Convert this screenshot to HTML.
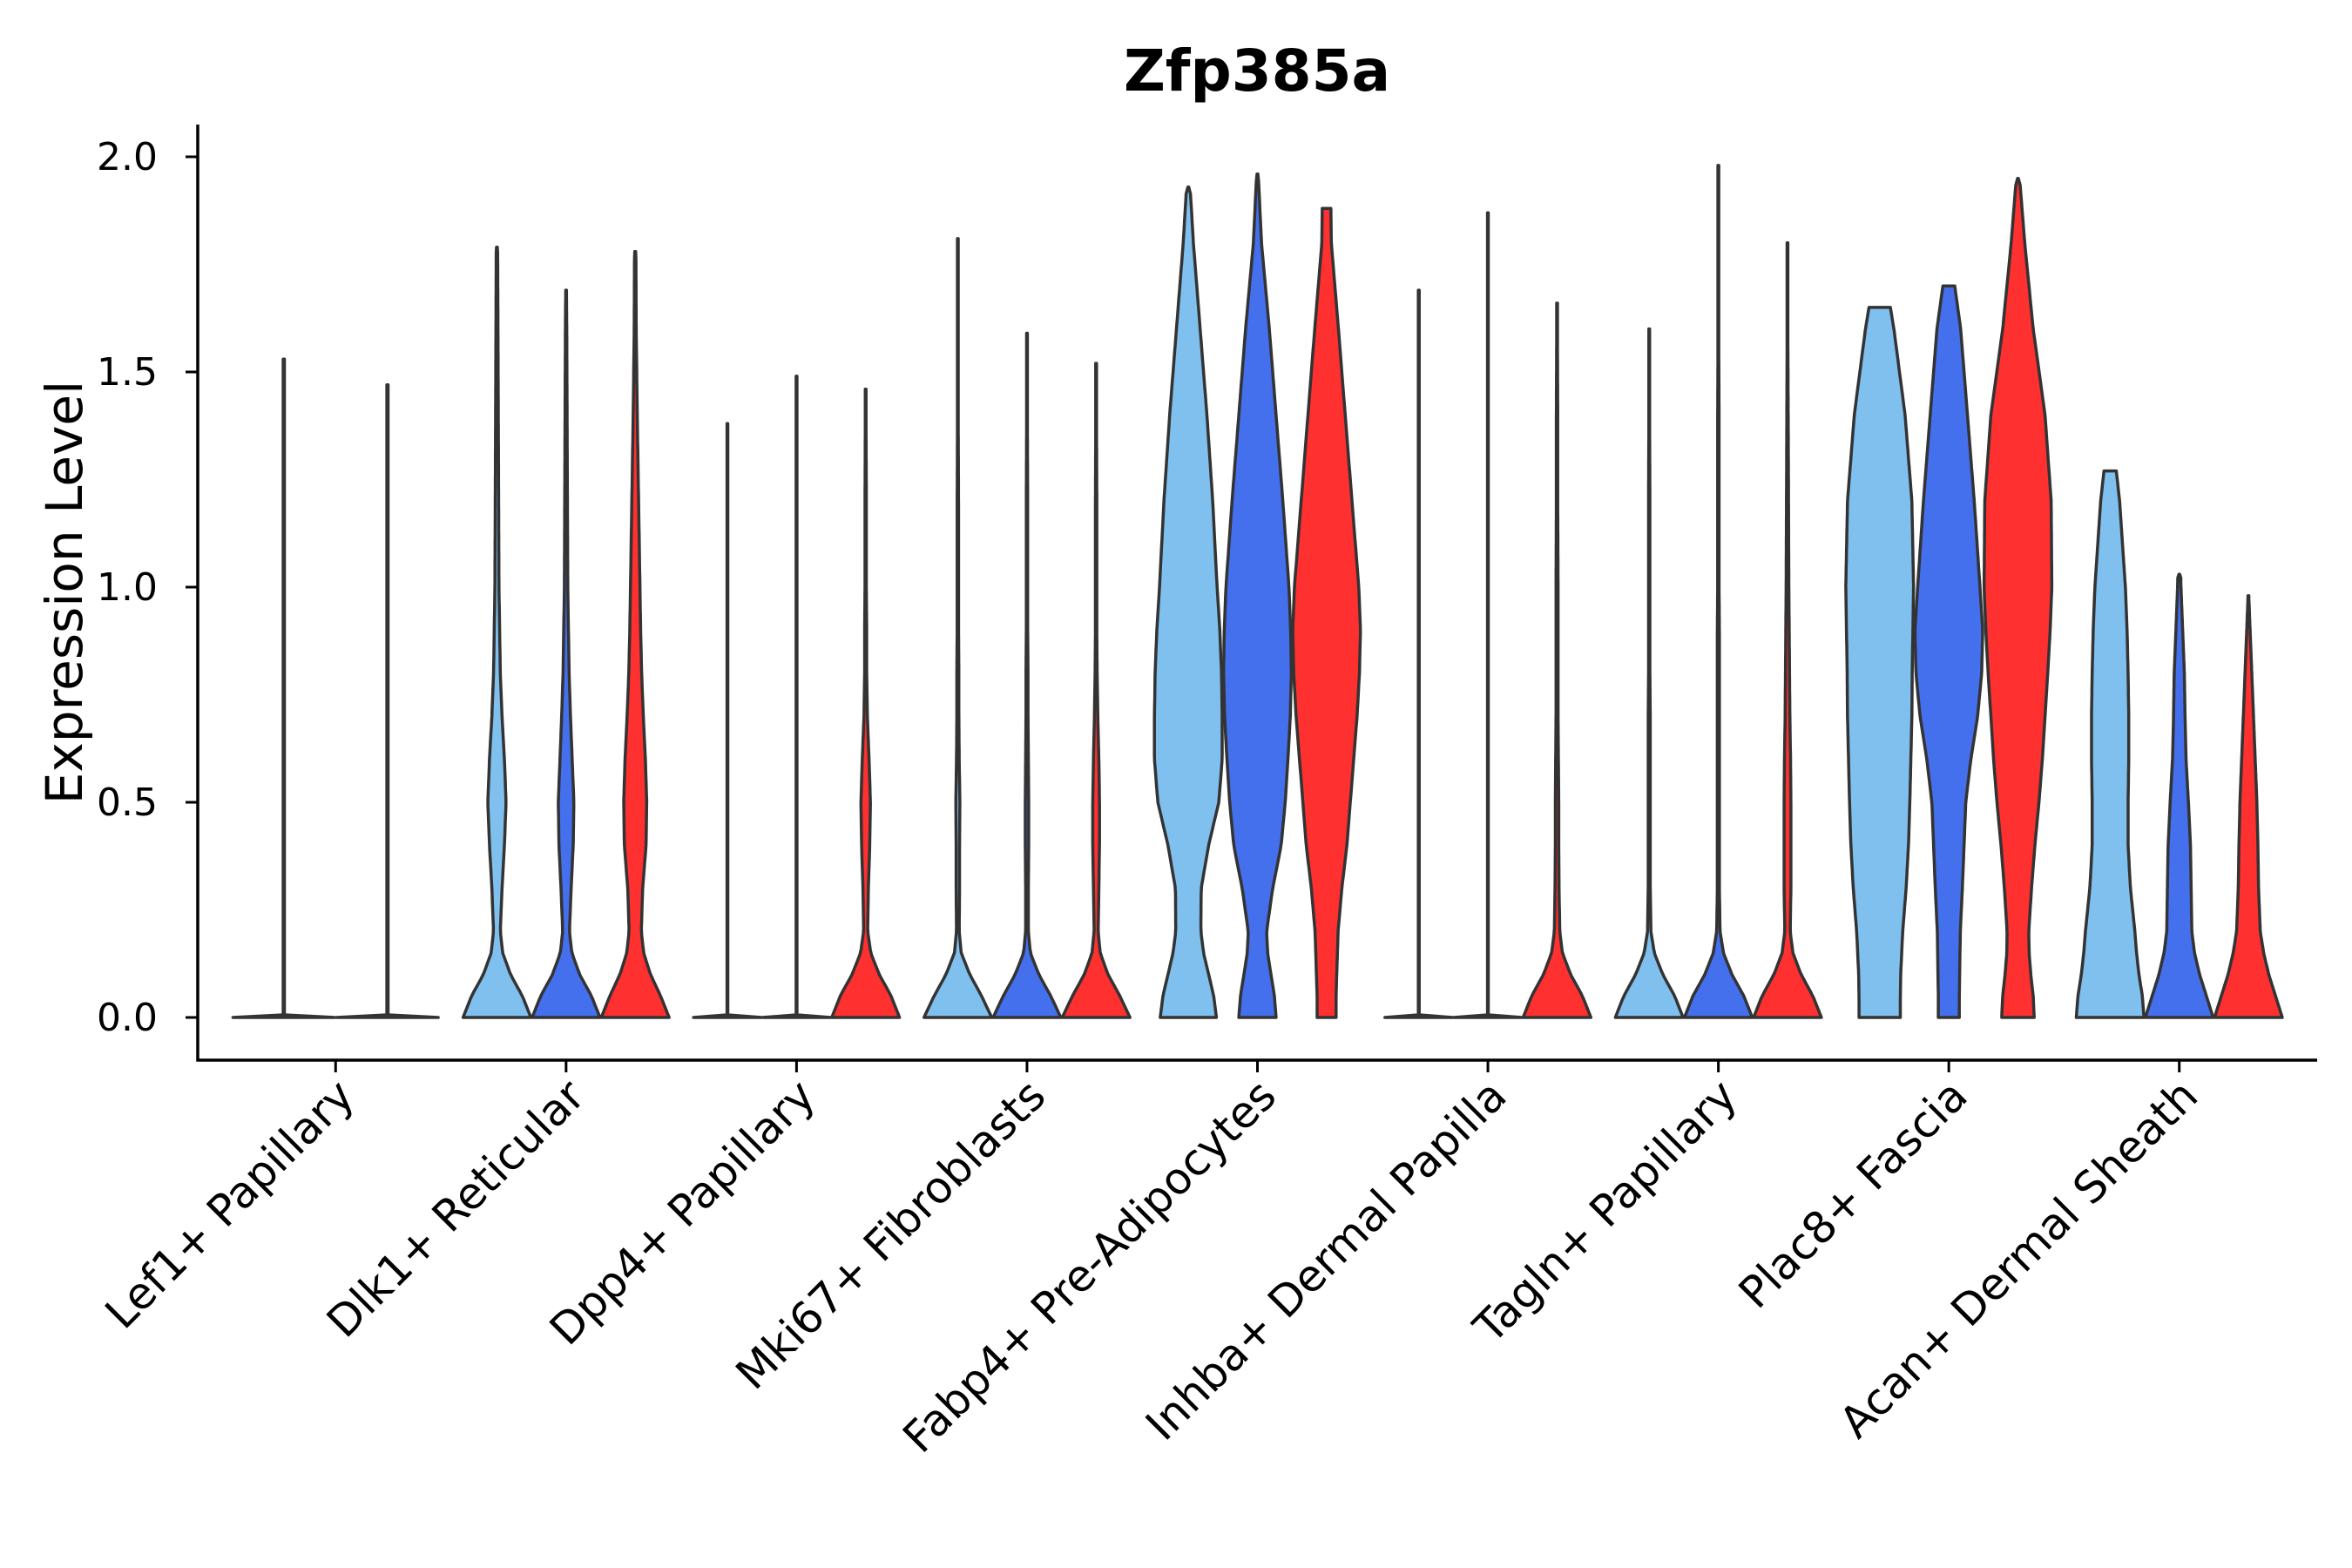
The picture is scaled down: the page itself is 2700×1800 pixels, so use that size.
<!DOCTYPE html>
<html><head><meta charset="utf-8"><style>
html,body{margin:0;padding:0;background:#fff}
svg{display:block}
text{font-family:"DejaVu Sans","Liberation Sans",sans-serif;fill:#000}
</style></head><body>
<svg id="chart" width="2700" height="1800" viewBox="0 0 2700 1800" xmlns="http://www.w3.org/2000/svg">
<text x="1443" y="104" font-size="66" font-weight="bold" text-anchor="middle">Zfp385a</text>
<text transform="translate(94,680) rotate(-90)" font-size="58" text-anchor="middle">Expression Level</text>
<g id="marks"></g>
<g id="axes"></g>
</svg>
<script>
const categories = ["Lef1+ Papillary","Dlk1+ Reticular","Dpp4+ Papillary","Mki67+ Fibroblasts","Fabp4+ Pre-Adipocytes","Inhba+ Dermal Papilla","Tagln+ Papillary","Plac8+ Fascia","Acan+ Dermal Sheath"];
const yTicks = [0, 0.5, 1.0, 1.5, 2.0];
const yTickLabels = ["0.0","0.5","1.0","1.5","2.0"];
const groupColors = ["#7fc0ee","#4470ee","#ff3030"];
const densityGrid = [0,.05,.1,.15,.2,.3,.4,.5,.6,.7,.8,.9,1.0,1.2,1.4,1.6,1.8,2.0];
const violinMax = [
 [1.53,1.47],
 [1.79,1.69,1.78],
 [1.38,1.49,1.46],
 [1.81,1.59,1.52],
 [1.93,1.96,1.88],
 [1.69,1.87,1.66],
 [1.60,1.98,1.80],
 [1.65,1.70,1.95],
 [1.27,1.03,0.98]
];
const violinGroups = [[0,1],[0,1,2],[0,1,2],[0,1,2],[0,1,2],[0,1,2],[0,1,2],[0,1,2],[0,1,2]];
const violinFlatTop = [
 [0,0],[0,0,0],[0,0,0],[0,0,0],[0,0,1],[0,0,0],[0,0,0],[1,1,0],[1,0,0]
];
const FLAT=[1,.01,.01,.01,.01,.01,.01,.01,.01,.01,.01,.01,.01,.01,.01,.01,.01,.01];
const violinWidths = [
 [FLAT, FLAT],
 [[1,.75,.4,.17,.1,.15,.22,.27,.22,.15,.1,.08,.06,.05,.04,.03,.02,0],
  [1,.75,.4,.17,.1,.15,.21,.23,.18,.13,.09,.07,.05,.04,.03,.02,0,0],
  [1,.75,.45,.25,.18,.22,.32,.34,.3,.24,.19,.16,.14,.1,.06,.03,.02,0]],
 [FLAT, FLAT,
  [1,.75,.4,.15,.06,.08,.12,.14,.1,.05,.03,.03,.02,.02,.01,0,0,0]],
 [[1,.7,.35,.1,.04,.05,.05,.06,.04,.03,.03,.02,.02,.02,.01,.01,.01,0],
  [1,.7,.35,.1,.04,.04,.05,.05,.04,.03,.03,.02,.02,.02,.01,.01,0,0],
  [1,.7,.35,.12,.06,.08,.1,.1,.08,.05,.03,.02,.02,.02,.01,.01,0,0]],
 [[.83,.75,.6,.45,.37,.38,.6,.9,1,1,.98,.93,.85,.72,.55,.35,.15,0],
  [.55,.5,.4,.3,.27,.45,.7,.82,.9,.97,1,.98,.93,.75,.55,.35,.12,0],
  [.28,.28,.3,.32,.34,.45,.6,.7,.8,.9,.97,1,.95,.75,.55,.35,.14,.11]],
 [FLAT, FLAT,
  [1,.75,.4,.16,.08,.06,.05,.05,.04,.03,.03,.03,.03,.02,.02,.01,0,0]],
 [[1,.75,.4,.15,.05,.03,.03,.03,.03,.03,.02,.02,.02,.02,.01,.01,0,0],
  [1,.75,.4,.15,.05,.03,.03,.03,.03,.03,.03,.03,.02,.02,.02,.01,.01,0],
  [1,.75,.4,.16,.08,.1,.1,.1,.09,.07,.06,.05,.04,.03,.02,.01,.01,0]],
 [[.61,.61,.62,.65,.68,.78,.85,.89,.92,.95,.96,.98,1,.95,.75,.42,0,0],
  [.31,.31,.32,.33,.34,.4,.45,.5,.65,.85,.97,1,.92,.75,.55,.35,0,0],
  [.48,.45,.38,.33,.32,.4,.5,.62,.72,.8,.88,.95,1,.98,.8,.45,.2,0]],
 [[1,.95,.85,.78,.73,.6,.53,.53,.55,.55,.53,.5,.45,.28,0,0,0,0],
  [1,.8,.6,.45,.37,.35,.33,.27,.2,.17,.15,.1,.05,0,0,0,0,0],
  [1,.8,.6,.45,.35,.3,.28,.25,.2,.15,.1,.05,0,0,0,0,0,0]]
];
const NS="http://www.w3.org/2000/svg";
const X0=227,X1=2660,YB=1217,YT=143;
const y0px=1168, pxPerUnit=494;
function yScale(v){return y0px - v*pxPerUnit;}
const pad=26;
const catStep=(X1-X0-2*pad)/categories.length;
function xScale(i){return X0+pad+catStep*(i+0.5);}
function widthAt(w,v){
  for(let k=0;k<densityGrid.length-1;k++){
    if(v<=densityGrid[k+1]){const t=(v-densityGrid[k])/(densityGrid[k+1]-densityGrid[k]);return w[k]+(w[k+1]-w[k])*t;}
  }
  return w[w.length-1];
}
function smoothProfile(w,mx){
  const out=[];
  const flatBase = w[1]<=0.02;
  if(flatBase){
    out.push([0,w[0]]);
    out.push([0.006,0.012]);
    out.push([mx,0.012]);
    return out;
  }
  const steps=120;
  for(let s=0;s<=steps;s++){
    const v=mx*s/steps;
    let ww=widthAt(w,v);
    if(v>0) ww=Math.max(ww,0.012);
    out.push([v,ww]);
  }
  return out;
}
const marks=document.getElementById('marks');
categories.forEach((cat,i)=>{
  const groups=violinGroups[i];
  const n=groups.length;
  const slot=(catStep*0.9)/n;
  const half=slot/2*0.98;
  groups.forEach((g,j)=>{
    const cx=xScale(i)-catStep*0.45+slot*(j+0.5);
    const mx=violinMax[i][j], w=violinWidths[i][j], flat=violinFlatTop[i][j];
    const prof=smoothProfile(w,mx);
    if(!flat) prof[prof.length-1][1]=0.012;
    else prof[prof.length-1][1]=Math.max(prof[prof.length-1][1],0.1);
    const right=prof.map(p=>[cx+p[1]*half,yScale(p[0])]);
    const left=prof.slice().reverse().map(p=>[cx-p[1]*half,yScale(p[0])]);
    const pts=right.concat(left);
    const d="M"+pts.map(p=>p[0].toFixed(1)+","+p[1].toFixed(1)).join(" L")+" Z";
    const path=document.createElementNS(NS,'path');
    path.setAttribute('d',d);
    path.setAttribute('fill',groupColors[g]);
    path.setAttribute('stroke','#333');
    path.setAttribute('stroke-width','3.5');
    path.setAttribute('stroke-linejoin','round');
    
    
    marks.appendChild(path);
  });
});
const axes=document.getElementById('axes');
function el(tag,attrs){const e=document.createElementNS(NS,tag);for(const k in attrs)e.setAttribute(k,attrs[k]);axes.appendChild(e);return e;}
const yl=el('line',{x1:X0,y1:YT,x2:X0,y2:YB+1.5,stroke:'#000','stroke-width':3.5});


const xl=el('line',{x1:X0-1.5,y1:YB,x2:X1,y2:YB,stroke:'#000','stroke-width':3.5});


yTicks.forEach((v,k)=>{
  const t=el('line',{x1:X0-14,y1:yScale(v),x2:X0,y2:yScale(v),stroke:'#000','stroke-width':3});
  
  
  const lb=el('text',{x:X0-46,y:yScale(v)+15,'font-size':44,'text-anchor':'end'});
  lb.textContent=yTickLabels[k];
  
  
});
categories.forEach((c,i)=>{
  const x=xScale(i);
  const t=el('line',{x1:x,y1:YB,x2:x,y2:YB+14,stroke:'#000','stroke-width':3});
  
  
  const lb=el('text',{transform:`translate(${x+24},${YB+44}) rotate(-45)`,'font-size':50,'text-anchor':'end'});
  lb.textContent=c;
  
  
});
</script>
</body></html>
